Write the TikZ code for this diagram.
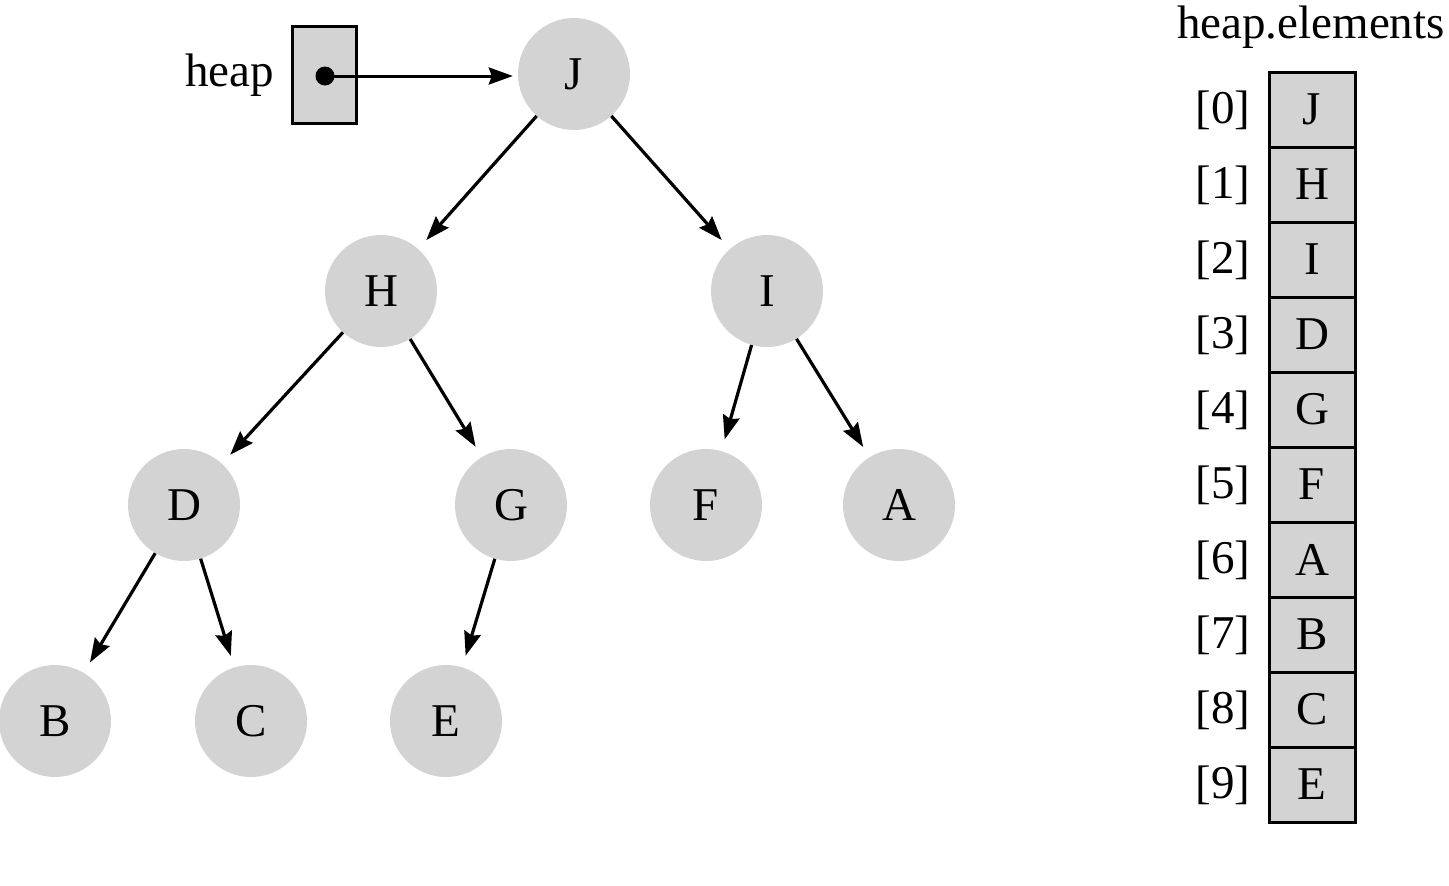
\documentclass[tikz,border=0pt]{standalone}
\usepackage{fontspec}
\setmainfont{Liberation Serif}
\usetikzlibrary{arrows.meta}
\definecolor{nodegray}{RGB}{211,211,211}
\begin{document}
\begin{tikzpicture}[x=1pt,y=-1pt,
  bigfont/.style={font=\fontsize{47}{50}\selectfont},
  treenode/.style={circle,fill=nodegray,minimum size=112pt,inner sep=0pt,bigfont},
  edge/.style={line width=3.2pt,-{Stealth[length=24pt,width=17pt,inset=3pt]},shorten >=12pt},
  cell/.style={rectangle,draw=black,line width=3pt,fill=nodegray,minimum width=86pt,minimum height=75pt,inner sep=0pt,bigfont},
  idx/.style={bigfont,inner sep=0pt}]
\useasboundingbox (0,0) rectangle (1449,886);
% tree nodes
\node[treenode] (J) at (574,74) {J};
\node[treenode] (H) at (381,291) {H};
\node[treenode] (I) at (767,291) {I};
\node[treenode] (D) at (184,505) {D};
\node[treenode] (G) at (511,505) {G};
\node[treenode] (F) at (706,505) {F};
\node[treenode] (A) at (899,505) {A};
\node[treenode] (B) at (55,721) {B};
\node[treenode] (C) at (251,721) {C};
\node[treenode] (E) at (446,721) {E};
% edges
\draw[edge] (J) -- (H);
\draw[edge] (J) -- (I);
\draw[edge] (H) -- (D);
\draw[edge] (H) -- (G);
\draw[edge] (I) -- (F);
\draw[edge] (I) -- (A);
\draw[edge] (D) -- (B);
\draw[edge] (D) -- (C);
\draw[edge] (G) -- (E);
% heap pointer
\node[rectangle,draw=black,line width=3pt,fill=nodegray,minimum width=64pt,minimum height=97pt,inner sep=0pt] (box) at (324,74.5) {};
\node[circle,fill=black,minimum size=19pt,inner sep=0pt] (dot) at (325,76) {};
\node[bigfont,anchor=east,inner sep=0pt] (heaplbl) at (274,75) {heap};
\draw[line width=3pt,-{Stealth[length=24pt,width=17pt,inset=3pt]},shorten >=5pt] (dot.center) -- (J.west |- dot.center);
% array
\node[bigfont,inner sep=0pt] (title) at (1311,27) {heap.elements};
\foreach \i/\l in {0/J,1/H,2/I,3/D,4/G,5/F,6/A,7/B,8/C,9/E}{
  \node[cell] (e\i) at (1312,{109.5+75*\i}) {\l};
  \node[idx] (i\i) at (1223,{110+75*\i}) {[\i]};
}
\end{tikzpicture}
\end{document}
